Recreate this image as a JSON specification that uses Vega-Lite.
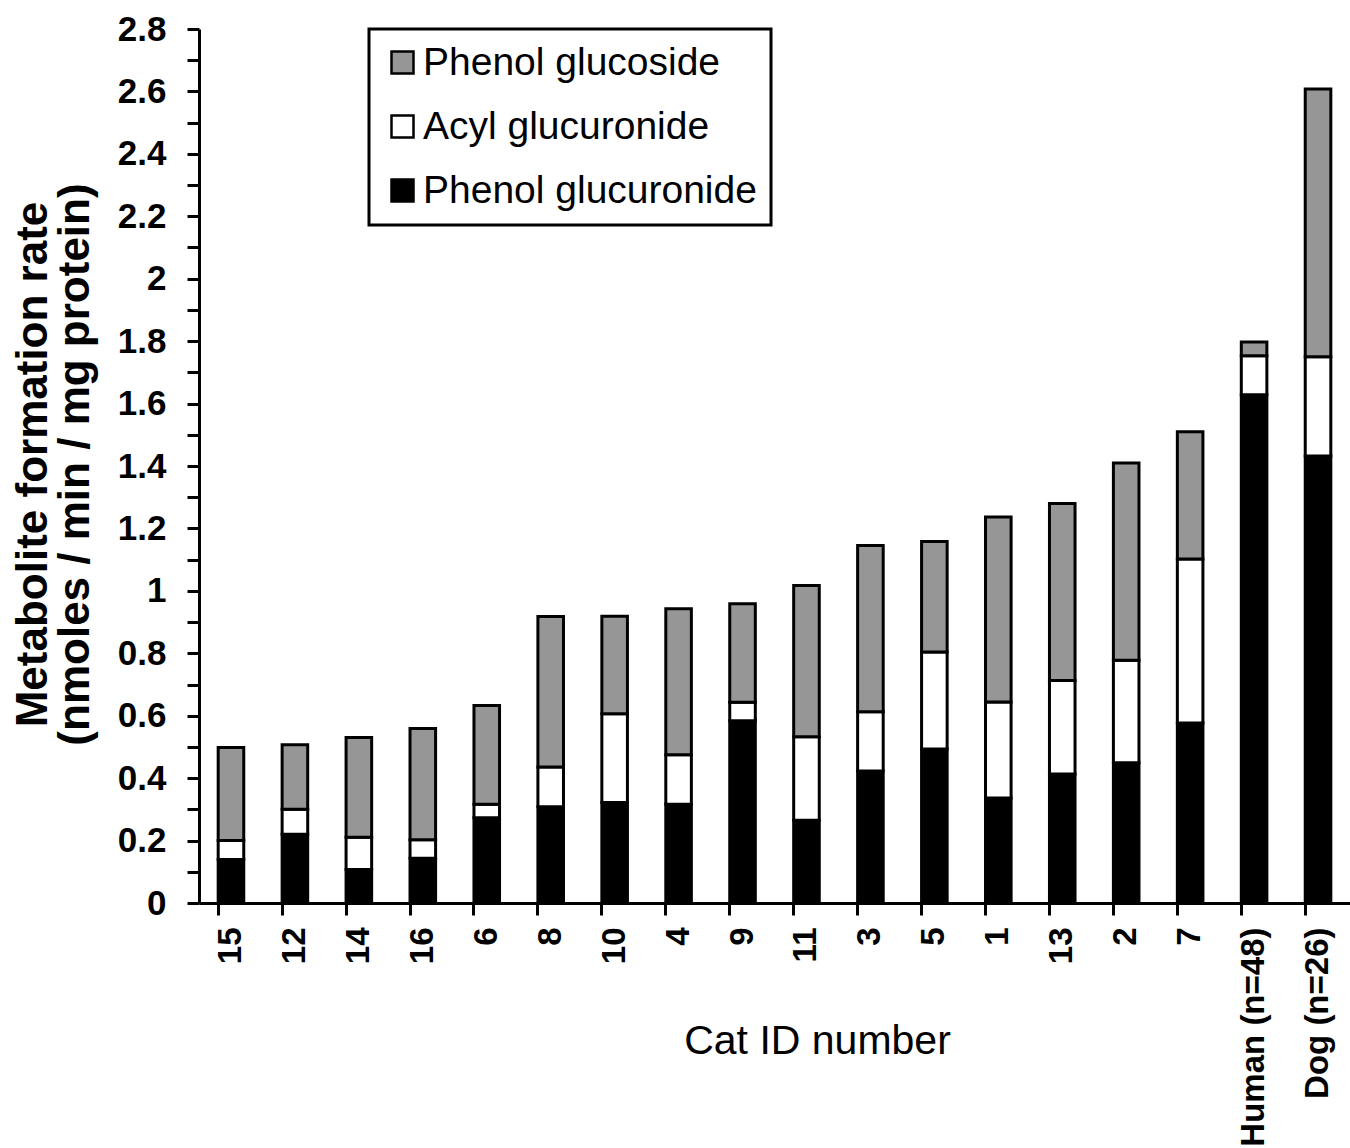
{
  "$schema": "https://vega.github.io/schema/vega-lite/v6.json",
  "width": 1151,
  "height": 874,
  "autosize": {"type": "none"},
  "padding": {"left": 199, "top": 29, "right": 0, "bottom": 245},
  "background": "white",
  "config": {
    "view": {"stroke": null},
    "font": "Liberation Sans",
    "legend": {"strokeWidth": 3}
  },
  "data": {
    "values": [
      {"id": "15", "metabolite": "Phenol glucuronide", "rate": 0.139, "stackOrder": 1},
      {"id": "15", "metabolite": "Acyl glucuronide", "rate": 0.061, "stackOrder": 2},
      {"id": "15", "metabolite": "Phenol glucoside", "rate": 0.298, "stackOrder": 3},
      {"id": "12", "metabolite": "Phenol glucuronide", "rate": 0.220, "stackOrder": 1},
      {"id": "12", "metabolite": "Acyl glucuronide", "rate": 0.080, "stackOrder": 2},
      {"id": "12", "metabolite": "Phenol glucoside", "rate": 0.207, "stackOrder": 3},
      {"id": "14", "metabolite": "Phenol glucuronide", "rate": 0.107, "stackOrder": 1},
      {"id": "14", "metabolite": "Acyl glucuronide", "rate": 0.104, "stackOrder": 2},
      {"id": "14", "metabolite": "Phenol glucoside", "rate": 0.319, "stackOrder": 3},
      {"id": "16", "metabolite": "Phenol glucuronide", "rate": 0.143, "stackOrder": 1},
      {"id": "16", "metabolite": "Acyl glucuronide", "rate": 0.060, "stackOrder": 2},
      {"id": "16", "metabolite": "Phenol glucoside", "rate": 0.356, "stackOrder": 3},
      {"id": "6", "metabolite": "Phenol glucuronide", "rate": 0.273, "stackOrder": 1},
      {"id": "6", "metabolite": "Acyl glucuronide", "rate": 0.043, "stackOrder": 2},
      {"id": "6", "metabolite": "Phenol glucoside", "rate": 0.317, "stackOrder": 3},
      {"id": "8", "metabolite": "Phenol glucuronide", "rate": 0.308, "stackOrder": 1},
      {"id": "8", "metabolite": "Acyl glucuronide", "rate": 0.128, "stackOrder": 2},
      {"id": "8", "metabolite": "Phenol glucoside", "rate": 0.482, "stackOrder": 3},
      {"id": "10", "metabolite": "Phenol glucuronide", "rate": 0.322, "stackOrder": 1},
      {"id": "10", "metabolite": "Acyl glucuronide", "rate": 0.284, "stackOrder": 2},
      {"id": "10", "metabolite": "Phenol glucoside", "rate": 0.313, "stackOrder": 3},
      {"id": "4", "metabolite": "Phenol glucuronide", "rate": 0.316, "stackOrder": 1},
      {"id": "4", "metabolite": "Acyl glucuronide", "rate": 0.159, "stackOrder": 2},
      {"id": "4", "metabolite": "Phenol glucoside", "rate": 0.468, "stackOrder": 3},
      {"id": "9", "metabolite": "Phenol glucuronide", "rate": 0.584, "stackOrder": 1},
      {"id": "9", "metabolite": "Acyl glucuronide", "rate": 0.059, "stackOrder": 2},
      {"id": "9", "metabolite": "Phenol glucoside", "rate": 0.316, "stackOrder": 3},
      {"id": "11", "metabolite": "Phenol glucuronide", "rate": 0.265, "stackOrder": 1},
      {"id": "11", "metabolite": "Acyl glucuronide", "rate": 0.268, "stackOrder": 2},
      {"id": "11", "metabolite": "Phenol glucoside", "rate": 0.484, "stackOrder": 3},
      {"id": "3", "metabolite": "Phenol glucuronide", "rate": 0.423, "stackOrder": 1},
      {"id": "3", "metabolite": "Acyl glucuronide", "rate": 0.190, "stackOrder": 2},
      {"id": "3", "metabolite": "Phenol glucoside", "rate": 0.532, "stackOrder": 3},
      {"id": "5", "metabolite": "Phenol glucuronide", "rate": 0.493, "stackOrder": 1},
      {"id": "5", "metabolite": "Acyl glucuronide", "rate": 0.311, "stackOrder": 2},
      {"id": "5", "metabolite": "Phenol glucoside", "rate": 0.354, "stackOrder": 3},
      {"id": "1", "metabolite": "Phenol glucuronide", "rate": 0.336, "stackOrder": 1},
      {"id": "1", "metabolite": "Acyl glucuronide", "rate": 0.308, "stackOrder": 2},
      {"id": "1", "metabolite": "Phenol glucoside", "rate": 0.593, "stackOrder": 3},
      {"id": "13", "metabolite": "Phenol glucuronide", "rate": 0.413, "stackOrder": 1},
      {"id": "13", "metabolite": "Acyl glucuronide", "rate": 0.300, "stackOrder": 2},
      {"id": "13", "metabolite": "Phenol glucoside", "rate": 0.567, "stackOrder": 3},
      {"id": "2", "metabolite": "Phenol glucuronide", "rate": 0.449, "stackOrder": 1},
      {"id": "2", "metabolite": "Acyl glucuronide", "rate": 0.329, "stackOrder": 2},
      {"id": "2", "metabolite": "Phenol glucoside", "rate": 0.632, "stackOrder": 3},
      {"id": "7", "metabolite": "Phenol glucuronide", "rate": 0.577, "stackOrder": 1},
      {"id": "7", "metabolite": "Acyl glucuronide", "rate": 0.525, "stackOrder": 2},
      {"id": "7", "metabolite": "Phenol glucoside", "rate": 0.408, "stackOrder": 3},
      {"id": "Human (n=48)", "metabolite": "Phenol glucuronide", "rate": 1.628, "stackOrder": 1},
      {"id": "Human (n=48)", "metabolite": "Acyl glucuronide", "rate": 0.125, "stackOrder": 2},
      {"id": "Human (n=48)", "metabolite": "Phenol glucoside", "rate": 0.044, "stackOrder": 3},
      {"id": "Dog (n=26)", "metabolite": "Phenol glucuronide", "rate": 1.432, "stackOrder": 1},
      {"id": "Dog (n=26)", "metabolite": "Acyl glucuronide", "rate": 0.318, "stackOrder": 2},
      {"id": "Dog (n=26)", "metabolite": "Phenol glucoside", "rate": 0.858, "stackOrder": 3}
    ]
  },
  "mark": {"type": "bar", "stroke": "black", "strokeWidth": 3},
  "encoding": {
    "x": {
      "field": "id",
      "type": "nominal",
      "sort": ["15","12","14","16","6","8","10","4","9","11","3","5","1","13","2","7","Human (n=48)","Dog (n=26)"],
      "scale": {"paddingInner": 0.6, "paddingOuter": 0.3},
      "axis": {
        "title": "Cat ID number",
        "titleFont": "Liberation Sans",
        "titleFontSize": 41,
        "titleFontWeight": "normal",
        "titleColor": "black",
        "titleX": 618,
        "titleY": 138,
        "titleAlign": "center",
        "titleBaseline": "middle",
        "labelAngle": 270,
        "labelAlign": "right",
        "labelBaseline": "middle",
        "labelFont": "Liberation Sans",
        "labelFontSize": 33,
        "labelFontWeight": "bold",
        "labelColor": "black",
        "labelPadding": 12,
        "labelLimit": 0,
        "labelOverlap": false,
        "bandPosition": 0,
        "tickSize": 12,
        "tickWidth": 3,
        "tickColor": "black",
        "domainColor": "black",
        "domainWidth": 3,
        "grid": false
      }
    },
    "y": {
      "field": "rate",
      "type": "quantitative",
      "stack": "zero",
      "scale": {"domain": [0, 2.8], "nice": false},
      "axis": {
        "title": ["Metabolite formation rate", "(nmoles / min / mg protein)"],
        "titleFont": "Liberation Sans",
        "titleFontSize": 44,
        "titleFontWeight": "bold",
        "titleColor": "black",
        "titleLineHeight": 42,
        "titleX": -166,
        "titleY": 435,
        "titleAngle": -90,
        "titleAlign": "center",
        "titleBaseline": "middle",
        "titleLimit": 0,
        "values": [0, 0.1, 0.2, 0.3, 0.4, 0.5, 0.6, 0.7, 0.8, 0.9, 1, 1.1, 1.2, 1.3, 1.4, 1.5, 1.6, 1.7, 1.8, 1.9, 2, 2.1, 2.2, 2.3, 2.4, 2.5, 2.6, 2.7, 2.8],
        "labelExpr": "round(datum.value * 10) % 2 == 0 ? format(datum.value, '~g') : ''",
        "labelFont": "Liberation Sans",
        "labelFontSize": 35,
        "labelFontWeight": "bold",
        "labelColor": "black",
        "labelPadding": 21,
        "labelOverlap": false,
        "tickSize": 12,
        "tickWidth": 3,
        "tickColor": "black",
        "domainColor": "black",
        "domainWidth": 3,
        "grid": false
      }
    },
    "color": {
      "field": "metabolite",
      "type": "nominal",
      "scale": {
        "domain": ["Phenol glucoside", "Acyl glucuronide", "Phenol glucuronide"],
        "range": ["#969696", "#ffffff", "#000000"]
      },
      "legend": {
        "title": null,
        "orient": "none",
        "legendX": 170,
        "legendY": 0,
        "strokeColor": "black",
        "fillColor": "white",
        "padding": 14,
        "symbolType": "square",
        "symbolSize": 484,
        "symbolStrokeColor": "black",
        "symbolStrokeWidth": 2.5,
        "symbolOpacity": 1,
        "labelFont": "Liberation Sans",
        "labelFontSize": 39,
        "labelColor": "black",
        "labelOffset": 1,
        "labelLimit": 0,
        "rowPadding": 24
      }
    },
    "order": {"field": "stackOrder", "type": "quantitative"}
  }
}
